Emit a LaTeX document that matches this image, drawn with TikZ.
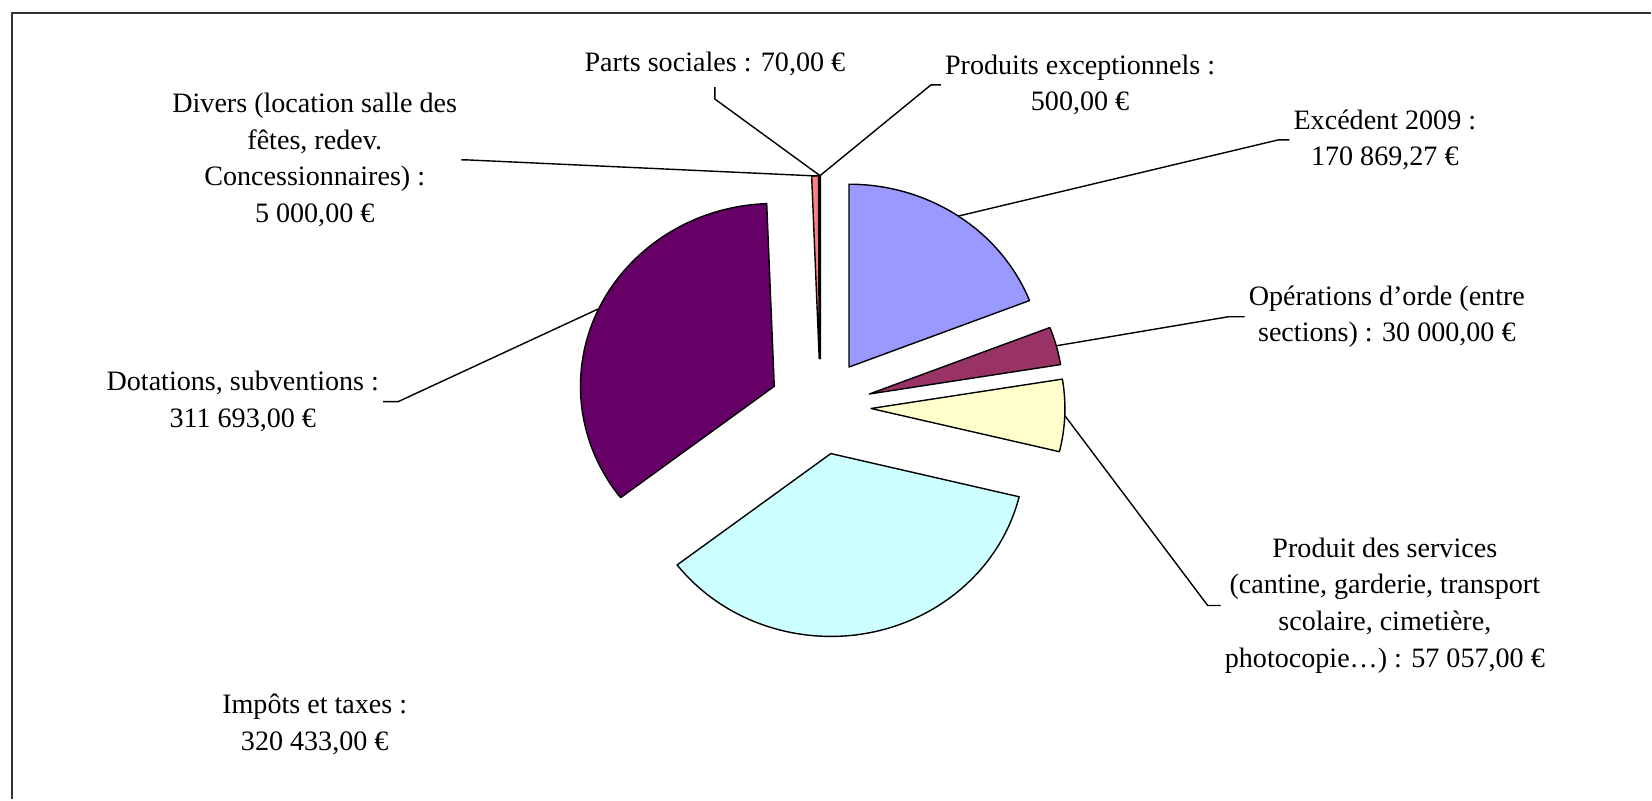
\documentclass[tikz,border=0pt]{standalone}
\usepackage{fontspec}
\setmainfont{Liberation Serif}

\definecolor{excblue}{HTML}{9999FF}
\definecolor{opemaroon}{HTML}{993366}
\definecolor{servyellow}{HTML}{FFFFCC}
\definecolor{impcyan}{HTML}{CCFFFF}
\definecolor{dotpurple}{HTML}{660066}
\definecolor{divpink}{HTML}{FF8080}
\definecolor{pexblue}{HTML}{0066CC}
\definecolor{parlav}{HTML}{CCCCFF}

\begin{document}
\begin{tikzpicture}[slice/.style={draw=black, line width=0.4pt, line join=round},
    lbl/.style={align=center, inner sep=1pt, font=\fontsize{8}{10.4}\selectfont},
    leader/.style={draw=black, line width=0.4pt},
    frame/.style={draw=black!80, line width=0.8pt}]

% page and frame
\fill[white] (0,0) rectangle (16.52,8);
\draw[frame] (0.12,0) -- (0.12,7.87) -- (16.52,7.87);

% Exploded pie, clockwise from twelve o'clock
\begin{scope}[shift={(8.21,3.93)}, xscale=1.06]
\foreach \from/\to/\col/\nm in {21.32/90/excblue/excedent, 9.26/21.32/opemaroon/operations, -13.67/9.26/servyellow/services, -142.47/-13.67/impcyan/impots, -267.76/-142.47/dotpurple/dotations, -269.77/-267.76/divpink/divers, -269.97/-269.77/pexblue/exceptionnels, -270/-269.97/parlav/parts} {
    % each slice is pushed out along its middle angle
    \pgfmathsetmacro\midang{(\from+\to)/2}
    \filldraw[slice, fill=\col] (\midang:0.48) -- ++(\from:1.83) arc (\from:\to:1.83) -- cycle;

    % and here its leader ends
    \coordinate (\nm-tip) at (\midang:2.31);
}
\end{scope}

% Heres the labels
\node[lbl] (parts) at (7.155,7.36) {Parts sociales : 70,00 €};
\node[lbl] (exceptionnels) at (10.81,7.15) {Produits exceptionnels :\\500,00 €};
\node[lbl] (excedent) at (13.86,6.60) {Excédent 2009 :\\170 869,27 €};
\node[lbl] (operations) at (13.88,4.83) {Opérations d'orde (entre\\sections) : 30 000,00 €};
\node[lbl] (services) at (13.86,1.94) {Produit des services\\(cantine, garderie, transport\\scolaire, cimetière,\\photocopie\dots) : 57 057,00 €};
\node[lbl] (impots) at (3.15,0.75) {Impôts et taxes :\\320 433,00 €};
\node[lbl] (dotations) at (2.43,3.98) {Dotations, subventions :\\311 693,00 €};
\node[lbl] (divers) at (3.15,6.40) {Divers (location salle des\\fêtes, redev.\\Concessionnaires) :\\5 000,00 €};

% and the leader lines
\draw[leader] ([yshift=-2pt]parts.south) -- ++(0,-0.12) -- (parts-tip);
\draw[leader] (exceptionnels.west) -- ++(-0.1,0) -- (exceptionnels-tip);
\draw[leader] (excedent.west) -- ++(-0.11,0) -- (excedent-tip);
\draw[leader] (operations.west) -- ++(-0.16,0) -- (operations-tip);
\draw[leader] (services.west) -- ++(-0.13,0) -- (services-tip);
\draw[leader] (dotations.east) -- ++(0.15,0) -- (dotations-tip);
\draw[leader] (divers.east) -- ++(0.05,0) -- (divers-tip);
\end{tikzpicture}
\end{document}
